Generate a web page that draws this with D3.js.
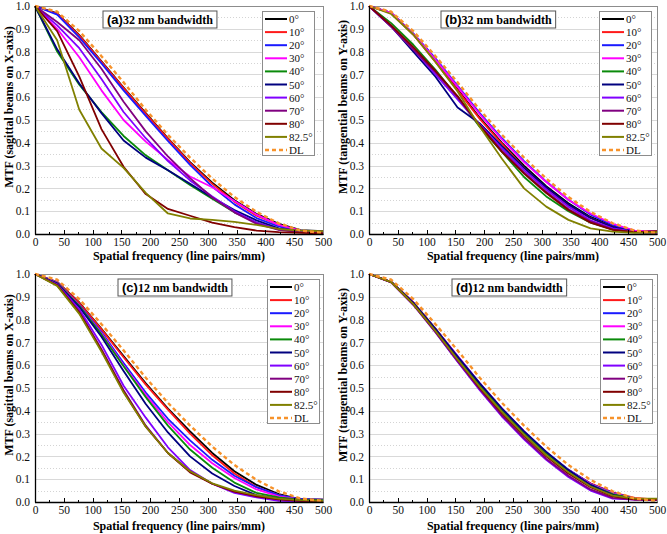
<!DOCTYPE html>
<html>
<head>
<meta charset="utf-8">
<script src="https://cdn.jsdelivr.net/npm/d3@7"></script>
<style>
  html, body { margin: 0; padding: 0; background: #fff; }
  svg { display: block; }
</style>
</head>
<body>
<svg id="chart" width="667" height="534"></svg>
<script>
// ---------------- DATA ----------------
const freq = [0, 38.5, 76.9, 115.4, 153.8, 192.3, 230.8, 269.2, 307.7, 346.2, 384.6, 423.1, 461.5, 500];
const seriesNames = ["0°", "10°", "20°", "30°", "40°", "50°", "60°", "70°", "80°", "82.5°"];
const seriesColors = ["#000000", "#ff1a1a", "#1a1aff", "#ff00ff", "#0a8a0a", "#00007f", "#8000ff", "#800080", "#800000", "#808000"];
const dlName = "DL";
const xTicks = [0, 50, 100, 150, 200, 250, 300, 350, 400, 450, 500];
const yTicks = [0, 0.1, 0.2, 0.3, 0.4, 0.5, 0.6, 0.7, 0.8, 0.9, 1.0];

const dlValues = [1.0, 0.975, 0.89, 0.78, 0.665, 0.545, 0.435, 0.335, 0.243, 0.162, 0.097, 0.047, 0.015, 0.005];

// (a) 32 nm bandwidth, sagittal
const valuesA = [
  [1, 0.968, 0.872, 0.757, 0.642, 0.53, 0.42, 0.315, 0.225, 0.148, 0.088, 0.045, 0.017, 0.012],
  [1, 0.966, 0.870, 0.755, 0.640, 0.527, 0.417, 0.312, 0.22, 0.142, 0.08, 0.04, 0.013, 0.006],
  [1, 0.962, 0.862, 0.748, 0.630, 0.518, 0.408, 0.303, 0.208, 0.13, 0.07, 0.033, 0.012, 0.008],
  [1, 0.90, 0.775, 0.63, 0.50, 0.405, 0.325, 0.252, 0.205, 0.145, 0.085, 0.04, 0.015, 0.01],
  [1, 0.80, 0.655, 0.535, 0.43, 0.345, 0.28, 0.215, 0.155, 0.095, 0.05, 0.02, 0.01, 0.01],
  [1, 0.81, 0.66, 0.53, 0.41, 0.335, 0.28, 0.22, 0.16, 0.105, 0.06, 0.025, 0.012, 0.012],
  [1, 0.915, 0.815, 0.68, 0.535, 0.42, 0.32, 0.235, 0.165, 0.10, 0.05, 0.02, 0.01, 0.01],
  [1, 0.93, 0.85, 0.725, 0.58, 0.45, 0.34, 0.245, 0.16, 0.095, 0.045, 0.018, 0.008, 0.005],
  [1, 0.89, 0.69, 0.46, 0.295, 0.175, 0.11, 0.08, 0.05, 0.03, 0.015, 0.008, 0.005, 0.003],
  [1, 0.85, 0.545, 0.375, 0.29, 0.18, 0.09, 0.068, 0.062, 0.053, 0.04, 0.022, 0.015, 0.012]
];

// (b) 32 nm bandwidth, tangential
const valuesB = [
  [1, 0.97, 0.875, 0.76, 0.635, 0.51, 0.40, 0.30, 0.21, 0.135, 0.075, 0.035, 0.012, 0.01],
  [1, 0.97, 0.875, 0.755, 0.63, 0.505, 0.395, 0.29, 0.20, 0.125, 0.07, 0.03, 0.01, 0.01],
  [1, 0.97, 0.88, 0.77, 0.65, 0.53, 0.42, 0.32, 0.23, 0.15, 0.085, 0.04, 0.012, 0.01],
  [1, 0.97, 0.878, 0.765, 0.645, 0.525, 0.415, 0.315, 0.228, 0.15, 0.09, 0.045, 0.015, 0.01],
  [1, 0.925, 0.83, 0.72, 0.60, 0.47, 0.36, 0.25, 0.165, 0.10, 0.05, 0.02, 0.008, 0.005],
  [1, 0.91, 0.80, 0.69, 0.555, 0.485, 0.385, 0.29, 0.205, 0.13, 0.07, 0.03, 0.01, 0.008],
  [1, 0.91, 0.81, 0.70, 0.59, 0.48, 0.375, 0.28, 0.195, 0.12, 0.06, 0.025, 0.01, 0.008],
  [1, 0.91, 0.81, 0.71, 0.60, 0.475, 0.365, 0.27, 0.185, 0.11, 0.055, 0.02, 0.008, 0.005],
  [1, 0.915, 0.82, 0.715, 0.605, 0.475, 0.36, 0.265, 0.18, 0.105, 0.05, 0.018, 0.008, 0.012],
  [1, 0.965, 0.875, 0.755, 0.625, 0.47, 0.33, 0.20, 0.12, 0.062, 0.025, 0.01, 0.005, 0.008]
];

// (c) 12 nm bandwidth, sagittal
const valuesC = [
  [1, 0.965, 0.875, 0.76, 0.64, 0.52, 0.41, 0.31, 0.215, 0.135, 0.075, 0.035, 0.012, 0.01],
  [1, 0.965, 0.873, 0.757, 0.635, 0.515, 0.405, 0.30, 0.205, 0.125, 0.065, 0.03, 0.01, 0.01],
  [1, 0.963, 0.865, 0.745, 0.61, 0.48, 0.365, 0.27, 0.185, 0.115, 0.065, 0.03, 0.012, 0.01],
  [1, 0.962, 0.862, 0.74, 0.60, 0.47, 0.35, 0.25, 0.17, 0.105, 0.055, 0.025, 0.01, 0.008],
  [1, 0.96, 0.86, 0.735, 0.595, 0.46, 0.335, 0.23, 0.15, 0.085, 0.04, 0.02, 0.01, 0.008],
  [1, 0.958, 0.855, 0.725, 0.575, 0.43, 0.305, 0.20, 0.125, 0.07, 0.03, 0.015, 0.008, 0.005],
  [1, 0.955, 0.845, 0.69, 0.51, 0.37, 0.24, 0.14, 0.08, 0.04, 0.02, 0.005, 0.003, 0.003],
  [1, 0.952, 0.835, 0.67, 0.49, 0.335, 0.215, 0.135, 0.08, 0.045, 0.025, 0.012, 0.005, 0.003],
  [1, 0.95, 0.83, 0.665, 0.485, 0.33, 0.215, 0.13, 0.08, 0.045, 0.025, 0.012, 0.005, 0.005],
  [1, 0.948, 0.825, 0.66, 0.48, 0.33, 0.215, 0.135, 0.082, 0.05, 0.03, 0.015, 0.008, 0.005]
];

// (d) 12 nm bandwidth, tangential
const valuesD = [
  [1, 0.965, 0.875, 0.76, 0.635, 0.515, 0.405, 0.305, 0.215, 0.14, 0.08, 0.04, 0.015, 0.01],
  [1, 0.965, 0.875, 0.76, 0.635, 0.515, 0.405, 0.305, 0.215, 0.14, 0.082, 0.042, 0.018, 0.01],
  [1, 0.965, 0.875, 0.76, 0.64, 0.52, 0.41, 0.31, 0.22, 0.142, 0.08, 0.04, 0.015, 0.01],
  [1, 0.965, 0.875, 0.76, 0.64, 0.52, 0.41, 0.31, 0.218, 0.14, 0.078, 0.038, 0.015, 0.012],
  [1, 0.965, 0.873, 0.758, 0.635, 0.515, 0.405, 0.305, 0.215, 0.138, 0.075, 0.035, 0.015, 0.012],
  [1, 0.965, 0.873, 0.758, 0.638, 0.52, 0.41, 0.31, 0.22, 0.14, 0.075, 0.03, 0.012, 0.01],
  [1, 0.963, 0.865, 0.745, 0.615, 0.49, 0.375, 0.275, 0.185, 0.11, 0.05, 0.015, 0.01, 0.008],
  [1, 0.963, 0.865, 0.745, 0.618, 0.495, 0.38, 0.28, 0.19, 0.115, 0.055, 0.018, 0.01, 0.008],
  [1, 0.964, 0.868, 0.75, 0.625, 0.50, 0.39, 0.29, 0.20, 0.125, 0.065, 0.025, 0.012, 0.01],
  [1, 0.964, 0.868, 0.75, 0.625, 0.505, 0.395, 0.295, 0.205, 0.13, 0.068, 0.028, 0.015, 0.015]
];

const panelLetters = ["(a)", "(b)", "(c)", "(d)"];
const panelTitles = ["32 nm bandwidth", "32 nm bandwidth", "12 nm bandwidth", "12 nm bandwidth"];
const yLabels = ["MTF (sagittal beams on X-axis)", "MTF (tangential beams on Y-axis)",
                 "MTF (sagittal beams on X-axis)", "MTF (tangential beams on Y-axis)"];
const xLabel = "Spatial frequency (line pairs/mm)";
const panelValues = [valuesA, valuesB, valuesC, valuesD];

// ---------------- LAYOUT ----------------
const panels = [
  { left: 35,  top: 6,   legendDx: 227, titleDx: 68, xLabelDy: 25.5 },
  { left: 369, top: 6,   legendDx: 230, titleDx: 72, xLabelDy: 25.5 },
  { left: 35,  top: 274, legendDx: 232, titleDx: 83, xLabelDy: 28 },
  { left: 369, top: 274, legendDx: 231, titleDx: 83, xLabelDy: 28 }
];
const W = 288, H = 228;
const serif = "'Liberation Serif', 'Times New Roman', serif";
const sans = "'Liberation Sans', Arial, sans-serif";

const svg = d3.select("#chart");

panels.forEach((p, pi) => {
  const g = svg.append("g").attr("transform", `translate(${p.left},${p.top})`);
  const x = d3.scaleLinear().domain([0, 500]).range([0, W]);
  const y = d3.scaleLinear().domain([0, 1]).range([H, 0]);

  // minor dotted grid (0.05)
  const minor = d3.range(1, 20, 2).map(k => k * 0.05);
  g.append("g").selectAll("line").data(minor).join("line")
    .attr("x1", 0).attr("x2", W)
    .attr("y1", d => Math.round(y(d)) + 0.5).attr("y2", d => Math.round(y(d)) + 0.5)
    .attr("stroke", "#d4d4d4").attr("stroke-width", 1).attr("stroke-dasharray", "1,2");
  // major grid
  g.append("g").selectAll("line").data(yTicks.slice(1)).join("line")
    .attr("x1", 0).attr("x2", W)
    .attr("y1", d => Math.round(y(d)) + 0.5).attr("y2", d => Math.round(y(d)) + 0.5)
    .attr("stroke", "#d9d9d9").attr("stroke-width", 1);

  // plot border
  g.append("rect").attr("x", 0.5).attr("y", 0.5).attr("width", W).attr("height", H)
    .attr("fill", "none").attr("stroke", "#8c8c8c").attr("stroke-width", 1);

  // lines
  const line = d3.line().x((d, i) => x(freq[i])).y(d => y(d));
  const vals = panelValues[pi];
  vals.forEach((s, si) => {
    g.append("path").datum(s).attr("d", line)
      .attr("fill", "none").attr("stroke", seriesColors[si])
      .attr("stroke-width", 1.8).attr("stroke-linejoin", "round");
  });
  g.append("path").datum(dlValues).attr("d", line)
    .attr("fill", "none").attr("stroke", "#f7922a")
    .attr("stroke-width", 2.4).attr("stroke-dasharray", "4,3");

  // axes
  const xAxis = d3.axisBottom(x).tickValues(xTicks).tickSize(0).tickPadding(4).tickFormat(d3.format("d"));
  const xa = g.append("g").attr("transform", `translate(0,${H})`).call(xAxis);
  xa.select(".domain").remove();
  xa.selectAll("text").attr("font-family", serif).attr("font-size", 11.5).attr("fill", "#111");
  // ticks inside (major every 50, minor every 25)
  const minorX = d3.range(25, 500, 50);
  g.append("g").selectAll("line").data(xTicks.slice(1, -1)).join("line")
    .attr("x1", d => Math.round(x(d)) + 0.5).attr("x2", d => Math.round(x(d)) + 0.5)
    .attr("y1", H).attr("y2", H - 4).attr("stroke", "#000").attr("stroke-width", 1);
  g.append("g").selectAll("line").data(minorX).join("line")
    .attr("x1", d => Math.round(x(d)) + 0.5).attr("x2", d => Math.round(x(d)) + 0.5)
    .attr("y1", H).attr("y2", H - 2).attr("stroke", "#000").attr("stroke-width", 1);

  const yAxis = d3.axisLeft(y).tickValues(yTicks).tickSize(0).tickPadding(5).tickFormat(d3.format(".1f"));
  const ya = g.append("g").call(yAxis);
  ya.select(".domain").remove();
  ya.selectAll("text").attr("font-family", serif).attr("font-size", 11.5).attr("fill", "#111");

  // axis lines (left, bottom)
  g.append("line").attr("x1", 0.5).attr("x2", 0.5).attr("y1", 0).attr("y2", H + 0.5)
    .attr("stroke", "#000").attr("stroke-width", 1.3);
  g.append("line").attr("x1", 0).attr("x2", W + 0.5).attr("y1", H + 0.5).attr("y2", H + 0.5)
    .attr("stroke", "#000").attr("stroke-width", 1.3);

  // axis titles
  g.append("text").attr("x", W / 2).attr("y", H + p.xLabelDy)
    .attr("text-anchor", "middle").attr("font-family", serif).attr("font-weight", "bold")
    .attr("font-size", 12).text(xLabel);
  g.append("text")
    .attr("transform", `translate(-22.5,${H / 2 - 13}) rotate(-90)`)
    .attr("text-anchor", "middle").attr("font-family", serif).attr("font-weight", "bold")
    .attr("font-size", 12).text(yLabels[pi]);

  // panel title box
  const tg = g.append("g").attr("transform", `translate(${p.titleDx},5)`);
  const tr = tg.append("rect").attr("x", 0).attr("y", 0).attr("height", 17)
    .attr("fill", "#fff").attr("stroke", "#555").attr("stroke-width", 1);
  const tt = tg.append("text").attr("x", 4).attr("y", 13);
  tt.append("tspan").attr("font-family", sans).attr("font-weight", "bold").attr("font-size", 13)
    .text(panelLetters[pi]);
  tt.append("tspan").attr("font-family", serif).attr("font-weight", "bold").attr("font-size", 12)
    .text(panelTitles[pi]);
  const tw = tt.node().getComputedTextLength();
  tr.attr("width", tw + 8);

  // legend
  const lg = g.append("g").attr("transform", `translate(${p.legendDx},5)`);
  lg.append("rect").attr("x", 0.5).attr("y", 0.5).attr("width", 52).attr("height", 144)
    .attr("fill", "#fff").attr("stroke", "#8c8c8c").attr("stroke-width", 1);
  const items = seriesNames.map((n, i) => ({ name: n, color: seriesColors[i], dash: null }))
    .concat([{ name: dlName, color: "#f7922a", dash: "4,3" }]);
  items.forEach((it, i) => {
    const yy = 8 + i * 13.1;
    lg.append("line").attr("x1", 3).attr("x2", 25).attr("y1", yy).attr("y2", yy)
      .attr("stroke", it.color).attr("stroke-width", it.dash ? 2.4 : 2)
      .attr("stroke-dasharray", it.dash);
    lg.append("text").attr("x", 27).attr("y", yy + 4)
      .attr("font-family", serif).attr("font-size", 11).attr("fill", "#111").text(it.name);
  });
});
</script>
</body>
</html>
